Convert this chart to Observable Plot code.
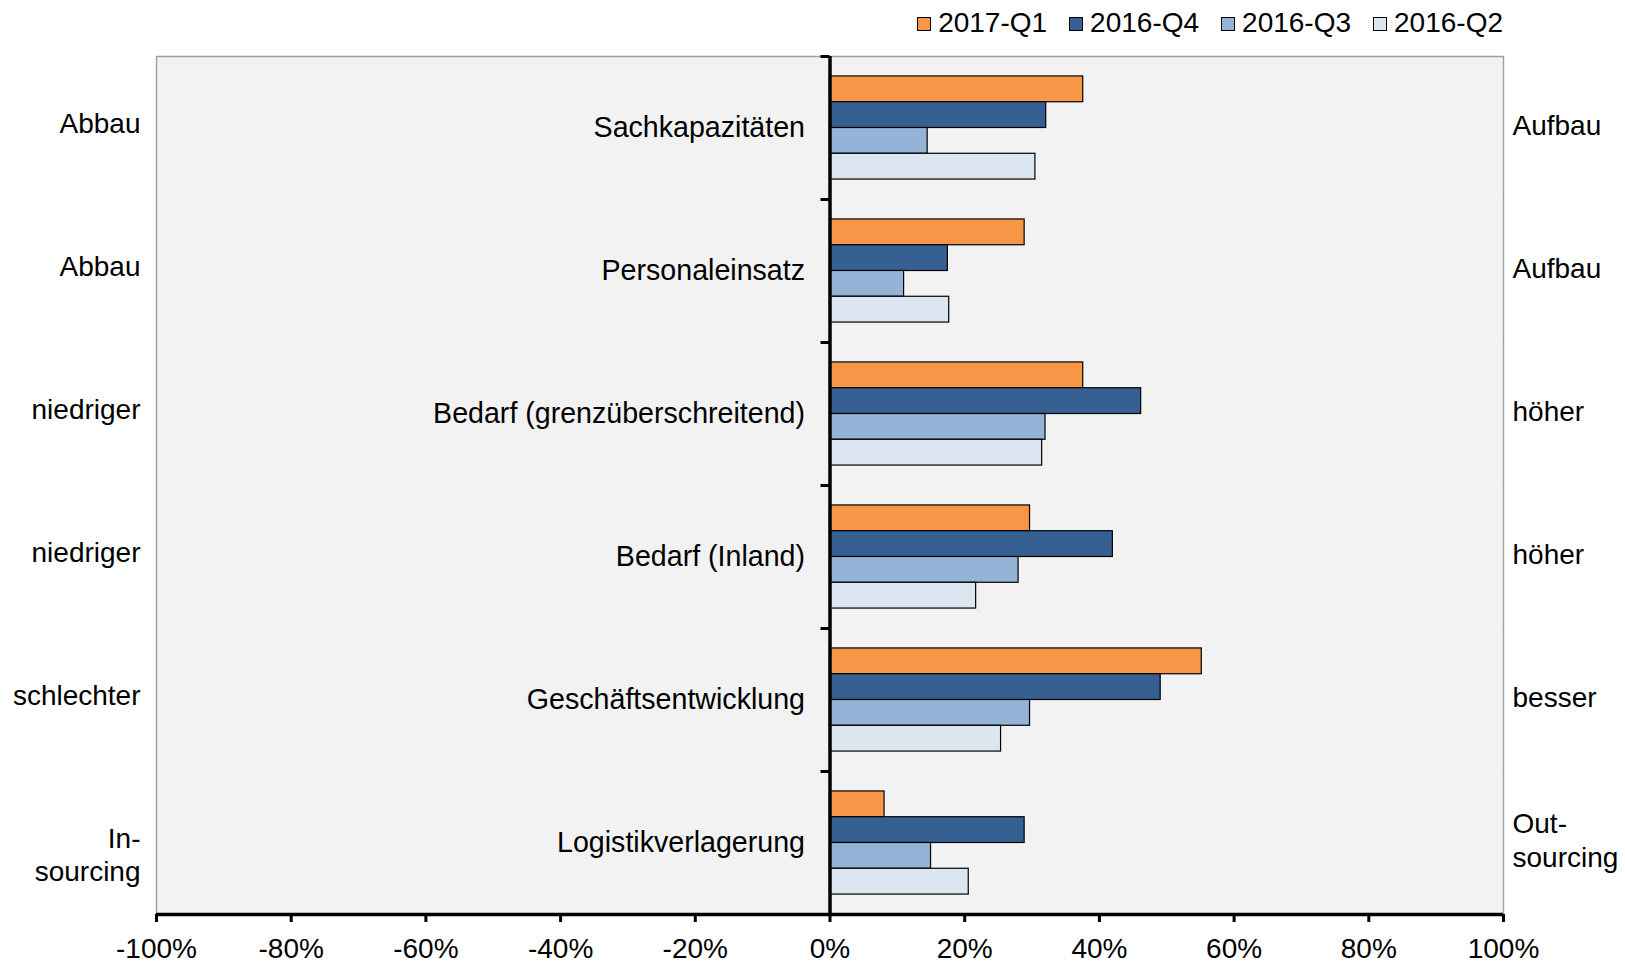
<!DOCTYPE html>
<html>
<head>
<meta charset="utf-8">
<script src="https://cdn.jsdelivr.net/npm/d3@7"></script>
<script src="https://cdn.jsdelivr.net/npm/@observablehq/plot@0.6"></script>
<style>
  body { margin: 0; background: #fff; font-family: "Liberation Sans", Arial, sans-serif; }
  #legend { height: 45px; display: flex; justify-content: flex-end; align-items: center;
            padding-right: 122px; box-sizing: border-box; font-size: 28px; color: #000; }
  .item { display: flex; align-items: center; margin-left: 22px; }
  .sw { width: 14px; height: 14px; border: 1px solid #000; margin-right: 7px; margin-top: 3px; box-sizing: border-box; }
</style>
</head>
<body>
<div id="legend"></div>
<div id="chart"></div>
<script>
// ---- data ----
const categories = ["Sachkapazitäten", "Personaleinsatz", "Bedarf (grenzüberschreitend)", "Bedarf (Inland)", "Geschäftsentwicklung", "Logistikverlagerung"];
const leftLabels = ["Abbau", "Abbau", "niedriger", "niedriger", "schlechter", "In-\nsourcing"];
const rightLabels = ["Aufbau", "Aufbau", "höher", "höher", "besser", "Out-\nsourcing"];
const series = ["2017-Q1", "2016-Q4", "2016-Q3", "2016-Q2"];
const q1_2017 = [37.6, 28.9, 37.6, 29.7, 55.2, 8.1];
const q4_2016 = [32.1, 17.5, 46.2, 42.0, 49.1, 28.9];
const q3_2016 = [14.5, 11.0, 32.0, 28.0, 29.7, 15.0];
const q2_2016 = [30.5, 17.7, 31.5, 21.7, 25.4, 20.6];
const xTicks = [-100, -80, -60, -40, -20, 0, 20, 40, 60, 80, 100];
const colors = ["#F79646", "#366092", "#95B3D7", "#DCE6F1"];

const seriesValues = [q1_2017, q4_2016, q3_2016, q2_2016];
const rows = categories.flatMap((c, i) =>
  series.map((s, j) => ({category: c, series: s, idx: j, value: seriesValues[j][i]})));
const labels = categories.map((c, i) => ({category: c, left: leftLabels[i], right: rightLabels[i]}));

// ---- legend ----
const legend = document.getElementById("legend");
series.forEach((s, j) => {
  const it = document.createElement("div");
  it.className = "item";
  const sw = document.createElement("div");
  sw.className = "sw";
  sw.style.background = colors[j];
  const tx = document.createElement("span");
  tx.textContent = s;
  it.appendChild(sw); it.appendChild(tx);
  legend.appendChild(it);
});

// ---- chart ----
const yPad = 0.774;
const xDomain = [xTicks[0], xTicks[xTicks.length - 1]];
const chart = Plot.plot({
  width: 1625,
  height: 920,
  marginTop: 10,
  marginBottom: 50,
  marginLeft: 156,
  marginRight: 122,
  style: {fontFamily: "'Liberation Sans', Arial, sans-serif", fontSize: "28px", background: "#fff", color: "#000"},
  x: {domain: xDomain},
  y: {domain: [-yPad, series.length + yPad], reverse: true, axis: null},
  fy: {domain: categories, padding: 0, axis: null},
  color: {domain: series, range: colors},
  marks: [
    Plot.frame({fill: "#f2f2f2", stroke: null}),
    Plot.ruleX(xDomain, {stroke: "#a0a0a0", strokeWidth: 1.4}),
    Plot.ruleY([categories[0]], {fy: d => d, y: () => -yPad, stroke: "#a0a0a0", strokeWidth: 1.4}),
    Plot.rect(rows, {
      fy: "category", x1: () => 0, x2: "value", y1: "idx", y2: d => d.idx + 1,
      fill: "series", stroke: "#000", strokeWidth: 1.2
    }),
    Plot.ruleX([0], {stroke: "#000", strokeWidth: 3.5}),
    Plot.ruleY([-yPad], {x1: () => 0, x2: () => 0, insetLeft: -9, stroke: "#000", strokeWidth: 3}),
    Plot.ruleY([categories[categories.length - 1]], {fy: d => d, y: () => series.length + yPad, stroke: "#000", strokeWidth: 3.5}),
    Plot.axisX({ticks: xTicks, tickSize: 8, tickPadding: 16, tickFormat: d => d + "%", strokeWidth: 3, fontSize: 28, label: null}),
    Plot.text(labels, {fy: "category", x: () => 0, text: "category", textAnchor: "end", dx: -25, frameAnchor: "middle", fontSize: 28.6}),
    Plot.text(labels, {fy: "category", text: "left", frameAnchor: "left", textAnchor: "end", dx: -16, lineAnchor: "top", dy: -18, lineHeight: 1.17, fontSize: 28}),
    Plot.text(labels, {fy: "category", text: "right", frameAnchor: "right", textAnchor: "start", dx: 9, lineAnchor: "middle", dy: -4, lineHeight: 1.2, fontSize: 28})
  ]
});
document.getElementById("chart").appendChild(chart);
</script>
</body>
</html>
